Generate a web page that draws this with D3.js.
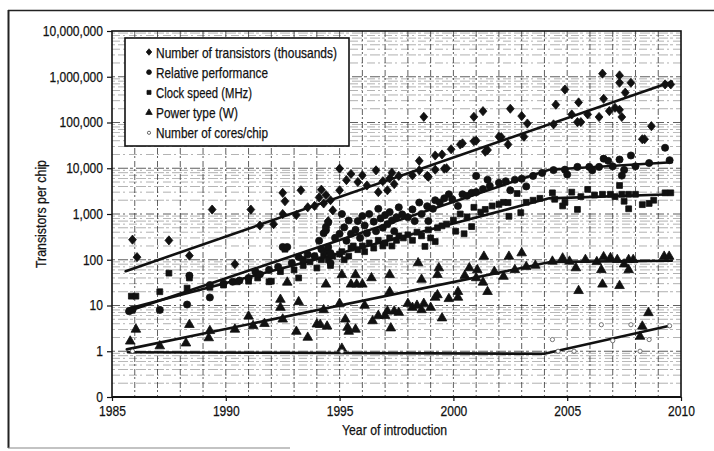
<!DOCTYPE html>
<html><head><meta charset="utf-8">
<script src="https://cdn.jsdelivr.net/npm/d3@7"></script>
<style>
html,body{margin:0;padding:0;background:#fff;}
svg text{font-family:"Liberation Sans",Arial,sans-serif;fill:#111;stroke:#111;stroke-width:0.25px;}
</style></head>
<body><svg id="c" width="714" height="451"></svg>
<script>
// ---- data (year, value) ----
const seriesNames = ["Number of transistors (thousands)","Relative performance","Clock speed (MHz)","Power type (W)","Number of cores/chip"];
const yTickValues = [0.1,1,10,100,1000,10000,100000,1000000,10000000];
const yTickLabels = ["0","1","10","100","1,000","10,000","100,000","1,000,000","10,000,000"];
const xTickValues = [1985,1990,1995,2000,2005,2010];

const transistors = [[1985.9,275],[1986.1,114],[1987.5,265],[1988.4,123],[1989.4,1250],[1990.4,80],[1991.1,1250],[1991.5,560],[1992.1,600],[1992.5,2900],[1992.6,1900],[1992.5,1000],[1993.3,3300],[1993.1,950],[1993.6,1400],[1993.9,1500],[1994.1,2300],[1994.2,3400],[1994.3,1700],[1994.4,2600],[1994.5,700],[1994.6,2000],[1994.7,1200],[1995.0,9800],[1995.0,3300],[1995.3,5500],[1995.5,7500],[1995.8,5000],[1996.0,7000],[1996.2,4200],[1996.6,9000],[1996.7,3000],[1996.9,5200],[1997.1,3300],[1997.2,6000],[1997.3,8000],[1997.4,4500],[1997.6,6800],[1998.2,7000],[1998.5,14500],[1998.5,9000],[1998.7,133000],[1998.85,6800],[1998.9,6500],[1999.2,19000],[1999.2,9300],[1999.5,20000],[1999.6,9800],[1999.7,10000],[1999.9,26000],[2000.3,33000],[2000.4,35000],[2000.9,133000],[2000.9,39000],[2001.0,40000],[2001.3,177000],[2001.4,23000],[2001.5,25000],[2002.0,49000],[2002.1,48000],[2002.4,33000],[2002.5,200000],[2003.0,138000],[2003.1,49000],[2003.25,95000],[2004.4,91000],[2004.5,245000],[2004.9,525000],[2005.2,150000],[2005.45,102000],[2005.5,275000],[2005.6,102000],[2005.9,150000],[2006.4,132000],[2006.55,1170000],[2006.6,330000],[2006.85,178000],[2007.1,210000],[2007.3,1070000],[2007.3,740000],[2007.3,190000],[2007.4,132000],[2007.55,450000],[2007.8,740000],[2008.3,43000],[2008.4,43000],[2008.7,83000],[2009.3,680000],[2009.55,680000]];

const performance = [[1985.75,7.5],[1985.9,8],[1987.1,8],[1988.3,10.5],[1988.4,45],[1989.3,15],[1989.3,28],[1989.9,30],[1990.3,33],[1990.6,35],[1991.0,40],[1991.3,55],[1991.5,48],[1991.9,60],[1992.3,70],[1992.5,190],[1992.7,190],[1992.9,85],[1993.2,115],[1993.4,100],[1993.6,130],[1993.9,120],[1994.1,260],[1994.2,170],[1994.3,380],[1994.4,440],[1994.4,520],[1994.5,650],[1994.5,190],[1994.6,140],[1994.6,85],[1994.8,300],[1995.0,370],[1995.1,1000],[1995.2,510],[1995.3,260],[1995.4,720],[1995.5,370],[1995.7,450],[1995.8,700],[1995.9,300],[1996.0,900],[1996.1,560],[1996.2,380],[1996.3,1000],[1996.5,680],[1996.6,420],[1996.7,1300],[1996.8,800],[1996.9,500],[1997.0,950],[1997.1,600],[1997.2,1100],[1997.3,720],[1997.4,420],[1997.5,850],[1997.6,1400],[1997.75,980],[1998.0,850],[1998.2,1260],[1998.3,700],[1998.5,1780],[1998.6,1000],[1998.85,1480],[1998.9,700],[1999.1,1300],[1999.2,2000],[1999.4,1780],[1999.6,2200],[1999.8,2700],[1999.95,2100],[2000.2,1500],[2000.4,2700],[2000.6,2500],[2000.8,2900],[2001.0,6800],[2001.0,3000],[2001.3,3500],[2001.5,5600],[2001.6,4100],[2002.0,4800],[2002.3,5200],[2002.5,3300],[2002.7,5600],[2003.0,5900],[2003.2,4000],[2003.5,6800],[2003.9,7900],[2004.4,9100],[2004.9,9300],[2005.0,7300],[2005.45,10700],[2005.97,10700],[2006.1,9000],[2006.4,10700],[2006.6,16200],[2006.8,14500],[2007.0,11000],[2007.3,15500],[2007.4,6900],[2007.5,9200],[2007.8,19000],[2008.0,11000],[2008.6,13000],[2009.3,28000],[2009.5,15000]];

const clock = [[1985.85,16],[1986.05,16],[1987.1,20],[1987.5,51],[1988.3,24],[1988.4,40],[1989.3,25],[1989.9,28],[1990.5,33],[1991.0,34],[1991.4,40],[1991.9,33],[1992.0,34],[1992.4,55],[1992.6,170],[1993.0,60],[1993.2,40],[1993.4,75],[1993.7,90],[1994.0,66],[1994.2,100],[1994.3,125],[1994.4,150],[1994.5,100],[1994.6,75],[1994.7,120],[1995.0,133],[1995.1,150],[1995.2,100],[1995.4,120],[1995.5,180],[1995.6,200],[1995.8,166],[1996.0,200],[1996.1,150],[1996.3,233],[1996.5,180],[1996.7,266],[1996.9,200],[1997.0,233],[1997.2,300],[1997.3,200],[1997.5,266],[1997.6,333],[1997.8,300],[1998.0,350],[1998.2,266],[1998.4,400],[1998.6,333],[1998.75,196],[1998.9,450],[1999.0,300],[1999.2,250],[1999.3,500],[1999.5,550],[1999.7,600],[2000.0,733],[2000.1,420],[2000.3,1000],[2000.47,370],[2000.6,866],[2000.8,530],[2000.9,1400],[2001.2,1100],[2001.4,1260],[2001.7,1500],[2002.0,1620],[2002.2,1800],[2002.4,1780],[2002.44,890],[2002.8,2800],[2002.96,1070],[2003.2,1800],[2003.5,2000],[2003.8,2200],[2004.35,2900],[2004.45,2100],[2004.8,1500],[2004.9,1800],[2005.2,3000],[2005.45,1260],[2005.6,2400],[2005.9,3450],[2006.2,2600],[2006.55,2700],[2006.9,2700],[2007.1,2400],[2007.3,4200],[2007.4,2700],[2007.5,1900],[2007.7,1300],[2007.7,2700],[2008.0,2700],[2008.3,1600],[2008.6,1700],[2008.8,2000],[2009.3,2900],[2009.55,2900]];

const power = [[1985.8,1.65],[1986.05,3],[1987.1,1.3],[1988.25,1.5],[1988.4,3.8],[1989.25,1.95],[1989.3,2.8],[1990.4,3],[1991.0,5.8],[1991.2,3.6],[1991.7,4],[1992.4,13.5],[1992.4,9],[1992.7,32],[1992.5,5],[1993.1,2.7],[1993.2,12],[1993.6,2],[1994.0,3.9],[1994.15,3.8],[1994.4,29],[1994.45,3.5],[1994.3,8],[1995.0,11],[1995.1,47],[1995.1,1.15],[1995.25,5],[1995.35,3.3],[1995.4,2.7],[1995.5,29],[1995.7,47],[1995.75,29],[1995.7,3],[1996.0,29],[1996.1,10],[1996.4,40],[1996.45,4.6],[1996.7,6],[1997.0,6],[1997.1,7.5],[1997.2,47],[1997.2,20],[1997.25,3.2],[1997.4,7.5],[1997.6,7],[1998.0,11],[1998.2,9],[1998.45,85],[1998.4,10],[1998.6,37],[1998.6,8],[1998.7,11],[1999.0,9],[1999.2,15],[1999.3,47],[1999.3,17],[1999.36,66],[1999.5,5.3],[1999.8,14],[2000.2,15],[2000.2,20],[2000.5,45],[2000.7,66],[2001.0,40],[2001.05,60],[2001.3,32],[2001.34,118],[2001.5,20],[2001.8,55],[2002.2,43],[2002.44,118],[2002.7,60],[2003.0,140],[2003.2,70],[2003.6,75],[2004.35,92],[2004.8,108],[2005.1,92],[2005.38,66],[2005.5,21],[2005.8,100],[2006.3,90],[2006.5,60],[2006.55,29],[2006.6,115],[2006.9,110],[2007.2,100],[2007.3,27],[2007.5,80],[2007.7,100],[2007.7,60],[2007.9,100],[2008.2,2.1],[2008.3,3.5],[2008.57,6.9],[2009.26,118],[2009.48,118]];

const cores = [[1985.9,1],[1995.1,1],[2004.35,1.8],[2004.6,1],[2005.3,1],[2006.5,3.8],[2007.0,1.7],[2007.8,3.8],[2008.2,1.0],[2008.6,1.8],[2009.5,3.6]];

const transistorsTrend = [[1985.6,56],[2009.6,780000]];
const performanceTrend = [[1985.7,7.5],[2004.2,9300],[2009.6,13500]];
const clockTrend = [[1985.7,8.5],[2004.2,2200],[2009.6,2700]];
const powerTrend = [[1985.65,1.1],[2004.3,90],[2009.6,95]];
const coresTrend = [[1985.7,0.95],[2004.0,0.88],[2009.5,3.6]];

// ---- drawing ----
const svg = d3.select("#c");
const L=112, R=681, T=31, B=397;
const x = d3.scaleLinear().domain([1985,2010]).range([L,R]);
const y = d3.scaleLog().domain([0.1,1e7]).range([B,T]);

function squeeze(sel, f){ sel.each(function(){ const w=this.getComputedTextLength(); d3.select(this).attr("textLength",w*f).attr("lengthAdjust","spacingAndGlyphs"); }); }
function fitTo(sel, w){ sel.attr("textLength",w).attr("lengthAdjust","spacingAndGlyphs"); }

// wide diamond symbol (rotated square, slightly tall)
const wideDiamond = { draw(ctx, size){ const a=Math.sqrt(size/2); const w=a*0.92, h=a*1.08; ctx.moveTo(0,-h); ctx.lineTo(w,0); ctx.lineTo(0,h); ctx.lineTo(-w,0); ctx.closePath(); } };

// scan frame
svg.append("line").attr("x1",8).attr("x2",714).attr("y1",10.5).attr("y2",10.5).attr("stroke","#222").attr("stroke-width",1.6);
svg.append("line").attr("x1",8.5).attr("x2",8.5).attr("y1",10).attr("y2",448).attr("stroke","#222").attr("stroke-width",2);
svg.append("line").attr("x1",8).attr("x2",290).attr("y1",448).attr("y2",448).attr("stroke","#888").attr("stroke-width",1.2);

const g = svg.append("g");
// grid: vertical each year
const years = d3.range(1986,2010);
g.selectAll(".vg").data(years).join("line")
  .attr("x1",d=>x(d)).attr("x2",d=>x(d)).attr("y1",T).attr("y2",B)
  .attr("stroke","#222").attr("stroke-width",0.9).attr("stroke-dasharray","6,2,2,3").attr("opacity",0.8);
// grid: horizontal log lines
const hvals=[];
for(let e=-1;e<7;e++){ for(let k=1;k<10;k++){ const v=k*Math.pow(10,e); if(v>0.1 && v<1e7) hvals.push(v);} }
const isMajor = d => Math.abs(Math.log10(d) - Math.round(Math.log10(d)))<1e-9;
g.selectAll(".hg").data(hvals).join("line")
  .attr("x1",L).attr("x2",R).attr("y1",d=>y(d)).attr("y2",d=>y(d))
  .attr("stroke","#222").attr("stroke-width",d=>isMajor(d)?0.9:0.7)
  .attr("stroke-dasharray",(d,i)=>i%2?"8,3,2,4":"3,3,10,2").attr("opacity",d=>isMajor(d)?0.8:0.5);

// frame / axes
g.append("rect").attr("x",L).attr("y",T).attr("width",R-L).attr("height",B-T).attr("fill","none").attr("stroke","#111").attr("stroke-width",1.6);
g.append("line").attr("x1",L).attr("x2",R).attr("y1",B).attr("y2",B).attr("stroke","#111").attr("stroke-width",2.2);

// y axis ticks + labels
const ya = g.append("g").attr("transform",`translate(${L},0)`)
  .call(d3.axisLeft(y).tickValues(yTickValues).tickFormat((d,i)=>yTickLabels[i]).tickSize(5).tickPadding(4));
ya.select(".domain").remove();
ya.selectAll("line").attr("stroke","#111").attr("stroke-width",1.2);
ya.selectAll("text").style("font-size","14px").attr("fill","#111").style("font-family",'"Liberation Sans",Arial,sans-serif');
squeeze(ya.selectAll("text"), 0.86);
// x axis
const xa = g.append("g").attr("transform",`translate(0,${B})`)
  .call(d3.axisBottom(x).tickValues(xTickValues).tickFormat(d3.format("d")).tickSize(4).tickPadding(5));
xa.select(".domain").remove();
xa.selectAll("line").attr("stroke","#111").attr("stroke-width",1.2);
xa.selectAll("text").style("font-size","14px").attr("fill","#111").style("font-family",'"Liberation Sans",Arial,sans-serif');
squeeze(xa.selectAll("text"), 0.86);

const xt = svg.append("text").attr("x",(L+R)/2 - 2).attr("y",435).attr("text-anchor","middle").style("font-size","14px").text("Year of introduction");
fitTo(xt, 105);
const yt = svg.append("text").attr("transform",`translate(46,${(T+B)/2}) rotate(-90)`).attr("text-anchor","middle").style("font-size","14px").text("Transistors per chip");
fitTo(yt, 108);

// trend lines
const line = d3.line().x(d=>x(d[0])).y(d=>y(d[1]));
[transistorsTrend,performanceTrend,clockTrend,powerTrend,coresTrend].forEach(t=>{
  g.append("path").attr("d",line(t)).attr("fill","none").attr("stroke","#111").attr("stroke-width",2.6).attr("stroke-linecap","round");
});

// points
function pts(data, type, size, fill, stroke){
  g.append("g").selectAll("path").data(data).join("path")
    .attr("transform",d=>`translate(${x(d[0])},${y(d[1])})`)
    .attr("d",d3.symbol().type(type).size(size))
    .attr("fill",fill).attr("stroke",stroke).attr("stroke-width",0.8);
}
pts(power, d3.symbolTriangle, 40, "#111", "#111");
pts(clock, d3.symbolSquare, 34, "#111", "#111");
pts(performance, d3.symbolCircle, 40, "#111", "#111");
pts(transistors, wideDiamond, 36, "#111", "#111");
pts(cores, d3.symbolCircle, 14, "#fff", "#555");

// legend
const lg = svg.append("g");
lg.append("rect").attr("x",125).attr("y",38).attr("width",224).attr("height",108).attr("fill","#fff").attr("stroke","#111").attr("stroke-width",1.6);
const legTypes=[wideDiamond,d3.symbolCircle,d3.symbolSquare,d3.symbolTriangle,d3.symbolCircle];
const legSizes=[18,18,16,18,8];
const legWidths=[181,112,96,82,112];
seriesNames.forEach((n,i)=>{
  const cy = 52 + i*20.2;
  lg.append("path").attr("transform",`translate(149,${cy})`).attr("d",d3.symbol().type(legTypes[i]).size(legSizes[i]))
    .attr("fill",i===4?"#fff":"#111").attr("stroke",i===4?"#444":"#111").attr("stroke-width",0.8);
  const t = lg.append("text").attr("x",156).attr("y",cy+5.5).style("font-size","15px").text(n);
  fitTo(t, legWidths[i]);
});
</script></body></html>
